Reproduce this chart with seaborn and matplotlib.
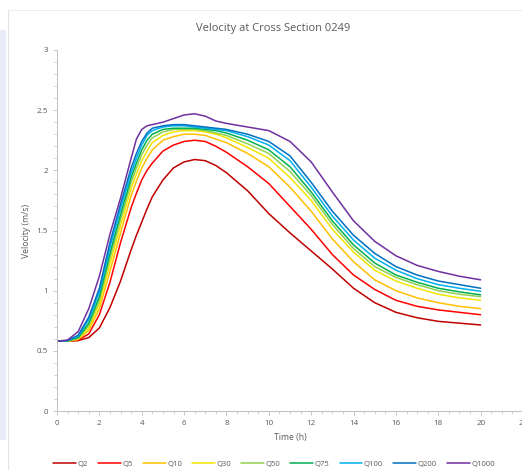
import numpy as np
import pandas as pd
import matplotlib
matplotlib.use("Agg")
import matplotlib.pyplot as plt
from matplotlib.ticker import MultipleLocator
import seaborn as sns

# Données (vitesse en m/s)
time_h = [0, 0.5, 1, 1.5, 2, 2.5, 3, 3.5, 3.75, 4, 4.25, 4.5, 5, 5.5, 6, 6.5, 7, 7.5, 8,
          9, 10, 11, 12, 13, 14, 15, 16, 17, 18, 19, 20]

q2 = [0.58, 0.58, 0.585, 0.61, 0.69, 0.86, 1.08, 1.34, 1.46, 1.57, 1.68, 1.78, 1.92, 2.02, 2.07, 2.09, 2.08, 2.04, 1.98,
      1.83, 1.64, 1.48, 1.33, 1.18, 1.02, 0.90, 0.82, 0.775, 0.745, 0.73, 0.715]
q5 = [0.58, 0.58, 0.59, 0.64, 0.80, 1.07, 1.40, 1.69, 1.81, 1.92, 2.00, 2.06, 2.16, 2.21, 2.24, 2.25, 2.24, 2.20, 2.15,
      2.03, 1.89, 1.70, 1.51, 1.30, 1.13, 1.01, 0.92, 0.87, 0.84, 0.82, 0.80]
q10 = [0.58, 0.58, 0.595, 0.67, 0.85, 1.16, 1.48, 1.79, 1.91, 2.02, 2.10, 2.17, 2.25, 2.28, 2.30, 2.30, 2.29, 2.26, 2.23,
       2.14, 2.03, 1.86, 1.66, 1.43, 1.24, 1.09, 1.00, 0.94, 0.90, 0.87, 0.85]
q30 = [0.58, 0.58, 0.60, 0.69, 0.89, 1.22, 1.54, 1.85, 1.97, 2.08, 2.16, 2.23, 2.29, 2.32, 2.33, 2.33, 2.32, 2.30, 2.27,
       2.19, 2.10, 1.94, 1.75, 1.51, 1.32, 1.17, 1.08, 1.02, 0.97, 0.94, 0.92]
q50 = [0.58, 0.582, 0.605, 0.71, 0.92, 1.27, 1.59, 1.90, 2.02, 2.13, 2.21, 2.27, 2.32, 2.34, 2.34, 2.34, 2.33, 2.31, 2.29,
       2.22, 2.14, 1.99, 1.79, 1.55, 1.35, 1.20, 1.11, 1.05, 1.00, 0.97, 0.95]
q75 = [0.58, 0.583, 0.61, 0.73, 0.95, 1.31, 1.63, 1.94, 2.06, 2.17, 2.25, 2.30, 2.34, 2.35, 2.35, 2.35, 2.34, 2.33, 2.31,
       2.25, 2.17, 2.03, 1.82, 1.58, 1.38, 1.23, 1.13, 1.07, 1.02, 0.99, 0.965]
q100 = [0.58, 0.585, 0.62, 0.76, 0.99, 1.36, 1.68, 1.98, 2.10, 2.21, 2.29, 2.33, 2.36, 2.37, 2.37, 2.36, 2.35, 2.34, 2.33,
        2.28, 2.21, 2.08, 1.86, 1.62, 1.42, 1.27, 1.17, 1.10, 1.05, 1.02, 0.995]
q200 = [0.58, 0.585, 0.63, 0.78, 1.02, 1.40, 1.72, 2.02, 2.14, 2.24, 2.31, 2.35, 2.37, 2.38, 2.38, 2.37, 2.36, 2.35, 2.34,
        2.30, 2.24, 2.12, 1.90, 1.66, 1.46, 1.31, 1.20, 1.13, 1.08, 1.05, 1.02]
q1000 = [0.58, 0.59, 0.66, 0.85, 1.12, 1.47, 1.77, 2.10, 2.26, 2.34, 2.37, 2.38, 2.40, 2.43, 2.46, 2.47, 2.45, 2.41, 2.39,
         2.36, 2.33, 2.24, 2.07, 1.82, 1.58, 1.41, 1.29, 1.21, 1.16, 1.12, 1.09]

series_names = ["Q2", "Q5", "Q10", "Q30", "Q50", "Q75", "Q100", "Q200", "Q1000"]
series_values = [q2, q5, q10, q30, q50, q75, q100, q200, q1000]
couleurs = ["#C00000", "#FF0000", "#FFC000", "#F2E600", "#92D050",
            "#00B050", "#00B0F0", "#0070C0", "#7030A0"]

df = pd.DataFrame({
    "Time": np.tile(time_h, len(series_names)),
    "Velocity": np.concatenate(series_values),
    "Serie": np.repeat(series_names, len(time_h)),
})

sns.set_theme(style="white")
plt.rcParams["font.family"] = ["Open Sans", "DejaVu Sans"]
gris = "#595959"

fig = plt.figure(figsize=(5.22, 4.70), dpi=100)
ax = fig.add_axes([57 / 522, 59 / 470, 466 / 522, 361 / 470])

sns.lineplot(data=df, x="Time", y="Velocity", hue="Serie", hue_order=series_names,
             palette=couleurs, linewidth=1.1, ax=ax, legend=True)

ax.set_xlim(0, 22)
ax.set_ylim(0, 3)
ax.xaxis.set_major_locator(MultipleLocator(2))
ax.xaxis.set_minor_locator(MultipleLocator(0.5))
ax.yaxis.set_minor_locator(MultipleLocator(0.1))
ax.set_yticks([0, 0.5, 1, 1.5, 2, 2.5, 3])
ax.set_yticklabels(["0", "0.5", "1", "1.5", "2", "2.5", "3"])
ax.tick_params(axis="both", which="major", labelsize=5.8, labelcolor=gris,
               length=3, width=0.6, color="#BFBFBF", direction="out", bottom=True, left=True)
ax.tick_params(axis="both", which="minor", length=2, width=0.5, color="#BFBFBF",
               direction="out", bottom=True, left=True)
for cote in ["top", "right"]:
    ax.spines[cote].set_visible(False)
for cote in ["left", "bottom"]:
    ax.spines[cote].set_color("#BFBFBF")
    ax.spines[cote].set_linewidth(0.7)

ax.set_xlabel("Time (h)", fontsize=6.2, color=gris, labelpad=4)
ax.set_ylabel("Velocity (m/s)", fontsize=6.2, color=gris, labelpad=4)
fig.text(0.523, 0.94, "Velocity at Cross Section 0249", ha="center", va="center",
         fontsize=8, color=gris)

handles, labels = ax.get_legend_handles_labels()
ax.get_legend().remove()
fig.legend(handles, labels, loc="center", bbox_to_anchor=(0.525, 0.012), ncol=9,
           frameon=False, fontsize=5.5, labelcolor=gris, handlelength=3.0,
           handletextpad=0.2, columnspacing=1.3)

# cadre de la zone graphique et bandeau gauche
fig.add_artist(plt.Line2D([8 / 522, 8 / 522], [0, 1 - 10 / 470], color="#E3E3E3", lw=0.8))
fig.add_artist(plt.Line2D([8 / 522, 1], [1 - 10 / 470, 1 - 10 / 470], color="#EDEDED", lw=0.8))
fig.add_artist(plt.Rectangle((0, 30 / 470), 6 / 522, 410 / 470, color="#E8EAF8", lw=0))

fig.savefig("out.png", dpi=100)
